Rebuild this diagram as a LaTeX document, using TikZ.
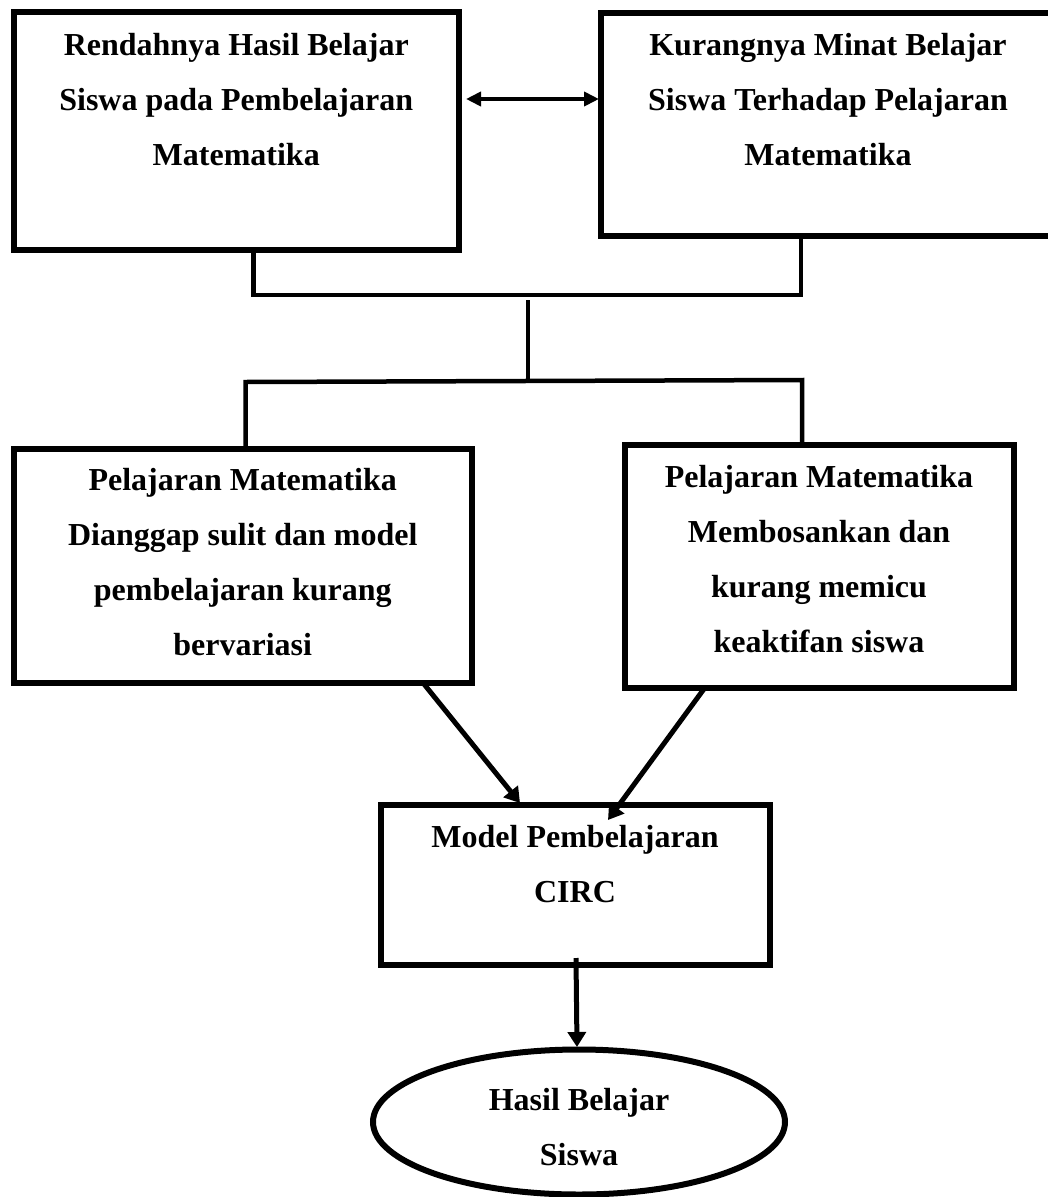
\documentclass[tikz,border=0pt]{standalone}
\usepackage{fontspec}
\setmainfont{Liberation Serif}
\usetikzlibrary{arrows.meta,calc,shapes.geometric}
\tikzset{
  box/.style={draw, line width=6pt, inner sep=0pt, outer sep=0pt, line join=miter,
    font=\fontsize{32}{55}\selectfont\bfseries},
  ell/.style={draw, ellipse, line width=6pt, inner sep=0pt, outer sep=0pt,
    minimum width=412pt, minimum height=145pt, font=\fontsize{32}{55}\selectfont\bfseries},
  conn/.style={line width=4.5pt, line join=miter},
  arr/.style={line width=5pt, -{Triangle[width=18pt,length=15pt]}},
  dbl/.style={line width=4pt, {Triangle[width=14pt,length=15pt]}-{Triangle[width=14pt,length=15pt]}},
}
\newcommand{\boxtext}[4]{\parbox[c][#1][t]{#2}{\centering\rule{0pt}{#3}#4}}
\begin{document}
\begin{tikzpicture}[x=1pt,y=-1pt]
\path[use as bounding box] (0,0) rectangle (1048,1197);
\clip (0,0) rectangle (1048,1197);

\node[box] (b1) at (236.25,130.75)
  {\boxtext{237.5pt}{445.5pt}{43pt}{Rendahnya Hasil Belajar\\Siswa pada Pembelajaran\\Matematika}};
\node[box] (b2) at (828,124)
  {\boxtext{223pt}{455pt}{42.5pt}{Kurangnya Minat Belajar\\Siswa Terhadap Pelajaran\\Matematika}};
\node[box] (b3) at (242.75,565.5)
  {\boxtext{234pt}{458.5pt}{41.5pt}{Pelajaran Matematika\\Dianggap sulit dan model\\pembelajaran kurang\\bervariasi}};
\node[box] (b4) at (819,566)
  {\boxtext{243pt}{389pt}{42.5pt}{Pelajaran Matematika\\Membosankan dan\\kurang memicu\\keaktifan siswa}};
\node[box] (b5) at (575,884.75)
  {\boxtext{160.5pt}{389pt}{42.5pt}{Model Pembelajaran\\CIRC}};
\node[ell] (el) at (579,1122)
  {\parbox[c][95pt][t]{200pt}{\centering\rule{0pt}{35.5pt}Hasil Belajar\\Siswa}};

% double arrow between top boxes
\draw[dbl] ($(b1.north east)+(7,87)$) -- ($(b2.north west)+(-1.5,86.5)$);

% upper bracket joining the two top boxes
\draw[conn] ($(b1.south)+(17.25,0)$) -- ++(0,45.5) -| ($(b2.south)+(-27,0)$);

% central stem
\coordinate (jtop) at (528,300);
\coordinate (jbot) at (528,382);
\draw[conn] (jtop) -- (jbot);

% lower bracket to the two middle boxes
\draw[conn] ($(b3.north)+(2.75,0)$) -- ($(b3.north)+(2.75,-66.5)$)
  -- ($(b4.north)+(-17,-64.5)$) -- ($(b4.north)+(-17,0)$);

% arrows into the CIRC box
\draw[arr] ($(b3.south)+(180,0)$) -- ($(b5.north)+(-55,-1.5)$);
\draw[arr] ($(b4.south)+(-114,0)$) -- ($(b5.north)+(33,15.5)$);

% arrow to the result
\draw[arr] ($(b5.south)+(1,-7)$) -- ($(el.north)+(-2,-2.5)$);
\end{tikzpicture}
\end{document}
